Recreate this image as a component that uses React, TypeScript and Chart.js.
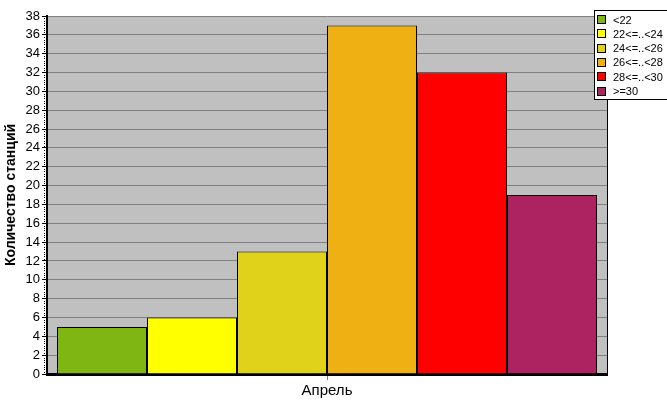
import React, { useEffect, useRef } from 'react';
import { Chart, registerables } from 'chart.js';
Chart.register(...registerables);

const categories = ['Апрель'];
const seriesNames = ['<22', '22<=..<24', '24<=..<26', '26<=..<28', '28<=..<30', '>=30'];
const seriesValues = [5, 6, 13, 37, 32, 19];
const seriesColors = ['#7FB614', '#FFFF00', '#E0D21A', '#EFB014', '#FF0000', '#AD2362'];
const yMin = 0;
const yMax = 38;
const yStep = 2;
const yTitle = 'Количество станций';

const FONT = 'Arial, "Liberation Sans", sans-serif';

const bgPlugin = {
  id: 'plotBg',
  beforeDraw(chart: any) {
    const { ctx, chartArea: a } = chart;
    ctx.save();
    ctx.fillStyle = '#C0C0C0';
    ctx.fillRect(a.left, a.top, a.right - a.left, a.bottom - a.top);
    ctx.restore();
  },
  afterDraw(chart: any) {
    const { ctx, chartArea: a } = chart;
    ctx.save();
    ctx.strokeStyle = '#000';
    ctx.lineWidth = 1;
    ctx.beginPath();
    ctx.moveTo(a.right + 0.5, a.top);
    ctx.lineTo(a.right + 0.5, a.bottom);
    ctx.stroke();
    // minor ticks
    const y = chart.scales.y;
    ctx.fillStyle = '#000';
    for (let v = yMin; v <= yMax; v += yStep / 8) {
      if (Math.abs(v / yStep - Math.round(v / yStep)) < 1e-6) continue;
      const py = Math.round(y.getPixelForValue(v));
      ctx.fillRect(a.left - 3, py, 1, 1);
    }
    ctx.restore();
  },
};

const legendPlugin = {
  id: 'boxLegend',
  afterDraw(chart: any) {
    const { ctx } = chart;
    const x0 = 594, y0 = 10, w = 80, h = 90;
    ctx.save();
    ctx.fillStyle = '#fff';
    ctx.fillRect(x0, y0, w, h);
    ctx.strokeStyle = '#000';
    ctx.lineWidth = 1;
    ctx.strokeRect(x0 + 0.5, y0 + 0.5, w - 1, h - 1);
    ctx.font = `11px ${FONT}`;
    ctx.textBaseline = 'middle';
    ctx.textAlign = 'left';
    chart.data.datasets.forEach((ds: any, i: number) => {
      const cy = y0 + 10 + i * 14.3;
      ctx.fillStyle = ds.backgroundColor;
      ctx.fillRect(x0 + 3.5, Math.round(cy) - 4.5, 8, 8);
      ctx.strokeStyle = '#000';
      ctx.strokeRect(x0 + 3.5, Math.round(cy) - 4.5, 8, 8);
      ctx.fillStyle = '#000';
      ctx.fillText(ds.label, x0 + 19, cy + 0.5);
    });
    ctx.restore();
  },
};

export default function App() {
  const ref = useRef<HTMLCanvasElement>(null);
  useEffect(() => {
    document.body.style.margin = '0';
    const chart = new Chart(ref.current as HTMLCanvasElement, {
      type: 'bar',
      data: {
        labels: categories,
        datasets: seriesNames.map((n, i) => ({
          label: n,
          data: [seriesValues[i]],
          backgroundColor: seriesColors[i],
          borderColor: '#000',
          borderWidth: 1,
        })),
      },
      options: {
        responsive: false,
        animation: false,
        layout: { padding: { left: 0, top: 16, right: 60, bottom: 0 } },
        plugins: { legend: { display: false }, tooltip: { enabled: false } },
        datasets: { bar: { categoryPercentage: 540 / 560, barPercentage: 1 } },
        scales: {
          x: {
            grid: { offset: false, drawOnChartArea: false, drawTicks: true, tickLength: 6, color: '#808080' },
            border: { color: '#000', width: 3 },
            ticks: { font: { family: FONT, size: 15 }, color: '#000', padding: 2 },
            afterFit: (s: any) => { s.height = 41; },
          },
          y: {
            min: yMin,
            max: yMax,
            ticks: { stepSize: yStep, font: { family: FONT, size: 13 }, color: '#000', padding: 2 },
            grid: { color: '#808080', tickColor: '#000', tickLength: 5 },
            border: { color: '#000', width: 2 },
            title: {
              display: true,
              text: yTitle,
              font: { family: FONT, size: 14, weight: 'bold' },
              color: '#000',
              padding: { top: 3, bottom: 0 },
            },
            afterFit: (s: any) => { s.width = 47; },
          },
        },
      } as any,
      plugins: [bgPlugin, legendPlugin],
    });
    return () => chart.destroy();
  }, []);
  return <canvas ref={ref} width={667} height={415} style={{ display: 'block' }} />;
}
